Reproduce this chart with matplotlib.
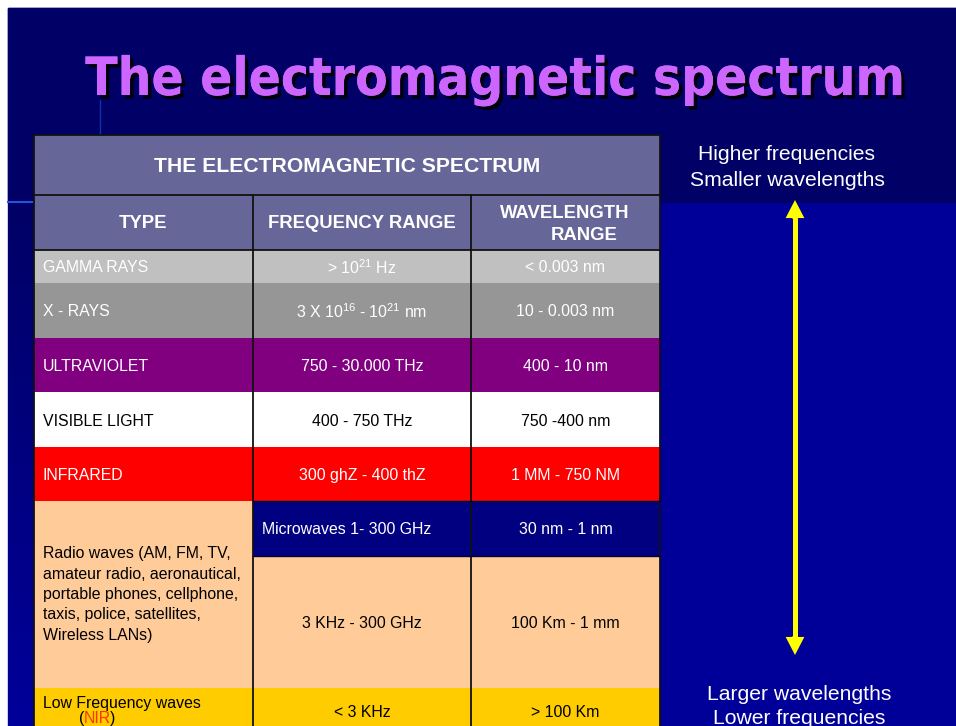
import matplotlib
matplotlib.use("Agg")
import matplotlib.pyplot as plt
import matplotlib.patheffects as pe
from matplotlib.patches import Rectangle
from matplotlib.colors import LinearSegmentedColormap
import numpy as np

plt.rcParams['font.family'] = ['Liberation Sans', 'DejaVu Sans']
plt.rcParams['mathtext.fontset'] = 'custom'
plt.rcParams['mathtext.rm'] = 'Liberation Sans'
plt.rcParams['mathtext.it'] = 'Liberation Sans:italic'
plt.rcParams['mathtext.bf'] = 'Liberation Sans:bold'

# table content
title = "The electromagnetic spectrum"
table_title = "THE ELECTROMAGNETIC SPECTRUM"
col_headers = ["TYPE", "FREQUENCY RANGE", "WAVELENGTH", "RANGE"]

# one entry per row of the right-hand columns
freq_ranges = ["> $10^{21}$ Hz", "3 X $10^{16}$ - $10^{21}$ nm", "750 - 30.000 THz",
               "400 - 750 THz", "300 ghZ - 400 thZ", "Microwaves 1- 300 GHz",
               "3 KHz - 300 GHz", "< 3 KHz"]
wave_ranges = ["< 0.003 nm", "10 - 0.003 nm", "400 - 10 nm", "750 -400 nm",
               "1 MM - 750 NM", "30 nm - 1 nm", "100 Km - 1 mm", "> 100 Km"]
row_fill = ["#C0C0C0", "#969696", "#800080", "#FFFFFF", "#FF0000",
            "#000080", "#FFCC99", "#FFCC00"]
row_text = ["white", "white", "white", "black", "white", "white", "black", "black"]

# left column: radio cell spans the microwave and radio rows
types = ["GAMMA RAYS", "X - RAYS", "ULTRAVIOLET", "VISIBLE LIGHT", "INFRARED",
         "Radio waves (AM, FM, TV,\namateur radio, aeronautical,\nportable phones, cellphone,\ntaxis, police, satellites,\nWireless LANs)",
         "Low Frequency waves"]
type_rows = [(0, 1), (1, 2), (2, 3), (3, 4), (4, 5), (5, 7), (7, 8)]
type_fill = ["#C0C0C0", "#969696", "#800080", "#FFFFFF", "#FF0000", "#FFCC99", "#FFCC00"]
type_text = ["white", "white", "white", "black", "white", "black", "black"]

side_top = ["Higher frequencies", "Smaller wavelengths"]
side_bottom = ["Larger wavelengths", "Lower frequencies"]

# layout in pixels
W, H = 956, 726
col_x = [34, 253, 471, 660]
row_y = [250, 283, 338, 392, 447, 501, 556, 688, 750]
head_y = [135, 195, 250]
fs = 11.4

fig = plt.figure(figsize=(W / 100, H / 100), dpi=100, facecolor='white')
ax = fig.add_axes([0, 0, 1, 1])
ax.set_xlim(0, W)
ax.set_ylim(H, 0)
ax.axis('off')

# slide background
ax.add_patch(Rectangle((8, 8), W, H, color='#000099', zorder=0))
ax.add_patch(Rectangle((8, 8), W, 194, color='#000066', zorder=0))
grad = np.linspace(0, 1, 100)[:, None]
ax.imshow(grad, extent=(8, 34, H, 202),
          cmap=LinearSegmentedColormap.from_list('g', ['#000066', '#00009A']),
          aspect='auto', zorder=0.5)
ax.plot([8, 34], [202, 202], color='#2255DD', lw=1.5, zorder=1)
ax.plot([100, 100], [100, 135], color='#1133AA', lw=1, zorder=1)

# title
ax.text(495, 80, title, fontsize=38, fontweight='bold', color='#CC66FF',
        ha='center', va='center', family=['DejaVu Sans'], fontstretch='condensed',
        path_effects=[pe.withSimplePatchShadow(offset=(2.5, -2.5), shadow_rgbFace='black', alpha=0.9),
                      pe.Normal()], zorder=5)

# table headers
ax.add_patch(Rectangle((col_x[0], head_y[0]), col_x[-1] - col_x[0], head_y[2] - head_y[0],
                       facecolor='#666699', edgecolor='none', zorder=2))
ax.text((col_x[0] + col_x[-1]) / 2, (head_y[0] + head_y[1]) / 2, table_title,
        fontsize=15.2, fontweight='bold', color='white', ha='center', va='center_baseline', zorder=4)
hdr = dict(fontsize=13.3, fontweight='bold', color='white', ha='center', va='center_baseline', zorder=4)
ax.text((col_x[0] + col_x[1]) / 2, 222, col_headers[0], **hdr)
ax.text((col_x[1] + col_x[2]) / 2, 222, col_headers[1], **hdr)
ax.text(565, 211, col_headers[2], **hdr)
ax.text(584, 233, col_headers[3], **hdr)

# right-hand columns
for i in range(len(freq_ranges)):
    y0, y1 = row_y[i], row_y[i + 1]
    ax.add_patch(Rectangle((col_x[1], y0), col_x[-1] - col_x[1], y1 - y0,
                           facecolor=row_fill[i], edgecolor='none', zorder=2))
    yc = (y0 + y1) / 2 if i < 7 else 711
    if freq_ranges[i].startswith("Microwaves"):
        ax.text(col_x[1] + 9, yc, freq_ranges[i], fontsize=fs, color=row_text[i],
                ha='left', va='center_baseline', zorder=4)
    else:
        ax.text((col_x[1] + col_x[2]) / 2, yc, freq_ranges[i], fontsize=fs,
                color=row_text[i], ha='center', va='center_baseline', zorder=4)
    ax.text((col_x[2] + col_x[3]) / 2, yc, wave_ranges[i], fontsize=fs,
            color=row_text[i], ha='center', va='center_baseline', zorder=4)

# left column
for i, (r0, r1) in enumerate(type_rows):
    y0, y1 = row_y[r0], row_y[r1]
    ax.add_patch(Rectangle((col_x[0], y0), col_x[1] - col_x[0], y1 - y0,
                           facecolor=type_fill[i], edgecolor='none', zorder=2))
    if '\n' in types[i]:
        ax.text(col_x[0] + 9, (y0 + y1) / 2, types[i], fontsize=fs, color=type_text[i],
                ha='left', va='center', linespacing=1.45, zorder=4)
    else:
        yc = (y0 + y1) / 2 if r1 < 8 else 702
        ax.text(col_x[0] + 9, yc, types[i], fontsize=fs, color=type_text[i],
                ha='left', va='center_baseline', zorder=4)
ax.text(79, 717, "(", fontsize=fs, color='black', ha='left', va='center_baseline', zorder=4)
ax.text(84, 717, "NIR", fontsize=fs, color='#FF3300', ha='left', va='center_baseline', zorder=4)
ax.text(110, 717, ")", fontsize=fs, color='black', ha='left', va='center_baseline', zorder=4)

# grid lines
lc = '#111111'
for x in col_x:
    top = head_y[0] if x in (col_x[0], col_x[-1]) else head_y[1]
    ax.plot([x, x], [top, H], color=lc, lw=1.3, zorder=3)
for y in head_y:
    ax.plot([col_x[0], col_x[-1]], [y, y], color=lc, lw=1.3, zorder=3)
for y in [row_y[5], row_y[6]]:
    ax.plot([col_x[1], col_x[-1]], [y, y], color='#000033', lw=1.0, zorder=3)

# side labels and arrow
side = dict(fontsize=15.2, color='white', ha='center', va='center_baseline', zorder=4)
ax.text(787, 153, side_top[0], **side)
ax.text(787, 178, side_top[1], **side)
ax.text(799, 693, side_bottom[0], **side)
ax.text(799, 717, side_bottom[1], **side)
arrow_x = 795
arrow_tips = [200, 655]
ax.plot([arrow_x, arrow_x], [arrow_tips[0] + 15, arrow_tips[1] - 15], color='#FFFF00',
        lw=3.6, solid_capstyle='butt', zorder=4)
for tip, sign in zip(arrow_tips, [1, -1]):
    ax.annotate("", xy=(arrow_x, tip), xytext=(arrow_x, tip + sign * 19),
                arrowprops=dict(arrowstyle='simple,tail_width=0.36,head_width=1.35,head_length=1.3',
                                facecolor='#FFFF00', edgecolor='none', shrinkA=0, shrinkB=0,
                                mutation_scale=10), zorder=4)

fig.savefig("out.png", dpi=100, facecolor='white')
